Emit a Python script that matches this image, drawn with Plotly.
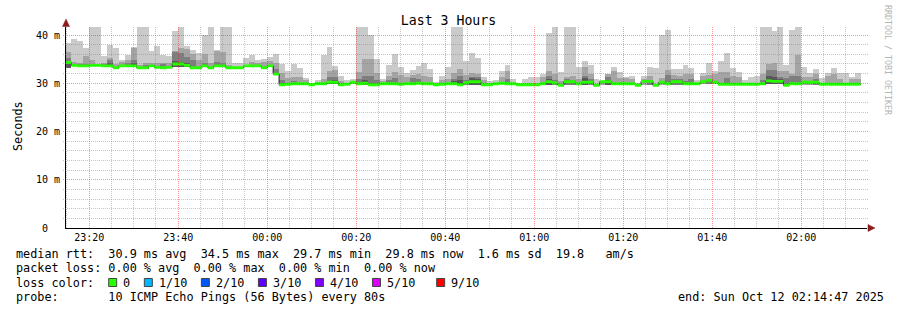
import math
import plotly.graph_objects as go
from datetime import datetime, timedelta

# ---------------- data ----------------
series_start = "2025-10-11 23:14:40"
step_seconds = 80

med = [34.3, 33.7, 33.6, 33.6, 33.7, 33.7, 33.6, 33.6, 33.2, 33.6,
       33.6, 33.6, 33.2, 33.2, 33.6, 33.3, 33.2, 33.3, 34.0, 34.0,
       33.7, 33.2, 33.2, 33.6, 33.2, 33.6, 33.6, 33.2, 33.2, 33.2,
       33.6, 33.6, 33.6, 33.2, 33.6, 31.9, 29.7, 29.8, 29.9, 29.9,
       29.9, 29.7, 29.9, 29.9, 30.2, 30.2, 29.7, 29.8, 30.2, 29.9,
       30.0, 29.7, 29.7, 29.9, 29.9, 29.9, 29.8, 29.9, 29.9, 30.0,
       29.9, 29.9, 29.7, 29.8, 29.9, 29.9, 29.7, 30.1, 30.3, 30.3,
       29.7, 29.7, 29.9, 30.0, 29.9, 29.9, 29.7, 29.7, 29.7, 29.7,
       29.9, 30.3, 30.1, 29.6, 30.3, 30.3, 29.9, 30.2, 30.2, 29.6,
       30.3, 30.3, 29.9, 29.9, 29.9, 29.9, 29.6, 30.4, 30.4, 29.6,
       30.2, 29.9, 30.3, 30.3, 29.9, 29.9, 29.9, 30.3, 30.6, 30.2,
       29.8, 29.8, 29.8, 29.8, 29.8, 29.8, 29.8, 29.9, 30.5, 30.4,
       30.4, 29.6, 29.9, 29.9, 30.2, 30.2, 30.2, 29.8, 29.8, 29.8,
       29.8, 29.8, 29.8, 29.8]

ping_min = [33.1, 33.5, 33.3, 33.4, 33.5, 33.5, 33.4, 33.4, 33.0, 33.4,
            33.4, 33.4, 33.0, 33.0, 33.4, 33.1, 33.0, 33.1, 33.3, 33.3,
            33.4, 33.0, 33.0, 33.4, 33.0, 33.4, 33.4, 33.0, 33.0, 33.0,
            33.4, 33.4, 33.4, 33.0, 33.4, 31.7, 29.5, 29.6, 29.7, 29.7,
            29.7, 29.5, 29.7, 29.7, 29.8, 29.8, 29.5, 29.6, 29.8, 29.7,
            29.7, 29.5, 29.5, 29.7, 29.7, 29.7, 29.6, 29.7, 29.7, 29.8,
            29.7, 29.7, 29.5, 29.6, 29.7, 29.7, 29.5, 29.7, 29.7, 29.7,
            29.5, 29.5, 29.7, 29.8, 29.7, 29.7, 29.5, 29.5, 29.5, 29.5,
            29.7, 29.7, 29.7, 29.4, 29.7, 29.7, 29.7, 29.7, 29.7, 29.4,
            29.7, 29.7, 29.7, 29.7, 29.7, 29.7, 29.4, 29.7, 29.7, 29.4,
            29.7, 29.7, 29.7, 29.7, 29.7, 29.7, 29.7, 29.8, 29.8, 29.8,
            29.6, 29.6, 29.6, 29.6, 29.6, 29.6, 29.6, 29.7, 29.8, 29.8,
            29.8, 29.4, 29.7, 29.7, 29.7, 29.7, 29.7, 29.6, 29.6, 29.6,
            29.6, 29.6, 29.6, 29.6]

ping_max = [38.4, 39.2, 38.8, 37.4, 41.7, 41.7, 35.6, 38.0, 37.4, 34.8,
            35.9, 37.6, 41.7, 41.7, 36.7, 37.7, 35.9, 35.6, 40.8, 41.7,
            37.7, 36.9, 36.2, 40.0, 41.7, 36.9, 41.7, 41.7, 34.3, 34.3,
            35.2, 35.9, 34.8, 35.0, 35.5, 36.1, 34.0, 32.5, 34.0, 33.1,
            31.0, 30.1, 30.6, 35.9, 37.6, 33.5, 31.5, 30.6, 30.9, 41.7,
            41.7, 40.0, 35.1, 30.9, 33.8, 36.0, 33.4, 32.1, 32.8, 33.5,
            34.1, 32.9, 30.2, 31.5, 33.3, 41.7, 41.7, 34.6, 36.2, 35.2,
            31.3, 30.4, 30.6, 32.6, 33.8, 30.9, 30.1, 30.8, 31.3, 31.2,
            31.9, 40.4, 41.7, 32.3, 41.7, 41.7, 33.4, 34.6, 33.8, 30.9,
            30.4, 32.0, 33.4, 32.3, 31.4, 31.6, 30.1, 31.6, 33.4, 33.2,
            40.0, 41.0, 33.0, 33.0, 33.8, 33.2, 30.6, 32.1, 34.1, 32.5,
            34.6, 36.3, 33.2, 32.3, 30.6, 31.3, 31.5, 41.7, 41.7, 40.9,
            41.7, 33.8, 41.0, 41.7, 33.4, 32.2, 33.0, 31.1, 32.1, 33.2,
            32.1, 32.1, 31.3, 32.1]

ping_p9 = [36.4, 34.4, 34.2, 35.6, 34.8, 34.0, 34.3, 35.3, 33.9, 34.4,
           34.9, 37.3, 33.8, 34.3, 34.1, 34.1, 34.3, 34.1, 36.7, 37.4,
           37.0, 36.0, 34.8, 36.0, 34.3, 36.6, 36.5, 33.8, None, None,
           None, 34.5, 34.2, 34.4, 34.6, 34.1, 32.1, 31.0, 31.4, 31.4,
           30.6, None, 30.2, 30.9, 32.5, 32.7, 30.5, None, None, 32.4,
           35.1, 35.1, 32.1, 30.4, 31.5, 32.4, 31.7, 31.2, 31.7, 32.0,
           31.5, 31.2, None, 30.6, 30.8, 32.2, 32.9, 31.8, 32.2, 31.9,
           30.6, None, None, 31.4, 32.5, None, None, None, None, None,
           31.3, 32.5, 32.0, 30.4, 31.3, 31.6, 30.8, 33.4, 31.9, None,
           30.4, 32.0, 32.5, 31.0, 31.1, 30.8, None, 30.9, 31.5, None,
           31.0, 32.7, 31.8, 31.6, 32.0, 31.9, None, 31.6, 31.8, 32.0,
           32.3, 32.3, 31.6, 31.3, None, None, None, 32.0, 33.9, 34.1,
           32.5, 32.5, 32.0, 35.8, 31.3, 31.3, 32.0, None, 31.5, 32.0,
           30.8, None, 30.8, 30.9]

ping_p8 = [35.2, None, 33.9, 34.0, None, None, 34.0, 34.8, None, None,
           34.3, 34.8, None, 33.7, None, None, 34.0, None, 36.5, 36.2,
           35.5, 34.8, None, 34.2, None, 34.5, 34.3, None, None, None,
           None, None, None, None, None, 33.0, 30.6, None, 30.4, None,
           None, None, None, None, 31.2, 31.4, None, None, None, 30.9,
           31.5, 31.5, 30.6, None, 30.6, 31.0, None, None, 31.0, 30.8,
           None, None, None, None, None, 30.9, 31.5, 30.6, 31.4, 31.3,
           None, None, None, None, 30.8, None, None, None, None, None,
           None, 31.6, 30.6, None, 30.8, 30.6, None, 31.6, 30.9, None,
           None, 31.3, None, None, None, None, None, None, 30.6, None,
           None, 31.8, 30.8, 30.8, 30.5, 30.8, None, None, 30.6, None,
           None, 31.0, None, None, None, None, None, 30.6, 32.7, 32.7,
           31.3, 31.0, 31.6, 31.5, None, None, 30.8, None, None, None,
           None, None, None, None]

ping_p7 = [34.4, None, None, None, None, None, None, 34.1, None, None,
           None, 34.2, None, None, None, None, None, None, 34.6, 34.5,
           34.1, None, None, None, None, None, None, None, None, None,
           None, None, None, None, None, None, None, None, None, None,
           None, None, None, None, 30.5, 30.6, None, None, None, None,
           30.6, None, None, None, None, None, None, None, None, None,
           None, None, None, None, None, 30.4, 30.6, None, 31.0, 30.8,
           None, None, None, None, None, None, None, None, None, None,
           None, 30.8, None, None, None, None, None, 31.0, None, None,
           None, 30.7, None, None, None, None, None, None, None, None,
           None, None, None, None, None, None, None, None, None, None,
           None, None, None, None, None, None, None, None, 31.6, 31.3,
           30.8, None, None, None, None, None, None, None, None, None,
           None, None, None, None]

x_tick_times = ["2025-10-11 23:20:00", "2025-10-11 23:40:00", "2025-10-12 00:00:00",
                "2025-10-12 00:20:00", "2025-10-12 00:40:00", "2025-10-12 01:00:00",
                "2025-10-12 01:20:00", "2025-10-12 01:40:00", "2025-10-12 02:00:00"]
x_tick_labels = ["23:20", "23:40", "00:00", "00:20", "00:40", "01:00", "01:20", "01:40", "02:00"]
y_tick_values = [0, 10, 20, 30, 40]
y_tick_labels = ["0\u00a0\u00a0", "10 m", "20 m", "30 m", "40 m"]

range_start = "2025-10-11 23:14:47"
range_end = "2025-10-12 02:14:47"

title_text = "Last 3 Hours"
y_title = "Seconds"
line_rtt = "median rtt:  30.9 ms avg  34.5 ms max  29.7 ms min  29.8 ms now  1.6 ms sd  19.8   am/s"
line_loss = "packet loss: 0.00 % avg  0.00 % max  0.00 % min  0.00 % now"
line_color = "loss color:"
line_probe = "probe:       10 ICMP Echo Pings (56 Bytes) every 80s"
line_end = "end: Sun Oct 12 02:14:47 2025"
watermark = "RRDTOOL / TOBI OETIKER"
loss_labels = ["0", "1/10", "2/10", "3/10", "4/10", "5/10", "9/10"]
loss_colors = ["#26ff00", "#00b8ff", "#0059ff", "#5e00ff", "#7e00ff", "#dd00ff", "#ff0000"]
loss_char_pos = [13, 18, 26, 34, 42, 50, 59]

# ---------------- geometry ----------------
W, H = 897, 310
L, R, T, B = 66, 30, 27, 82
PW = W - L - R
PH = H - T - B
YMAX = 41.66
MONO = "DejaVu Sans Mono"
CHAR_W = 7.13
LEG_SIZE = 11.8


def px_x(px):
    return (px - L) / PW


def px_y(py):
    return (H - B - py) / PH


def nb(s):
    return s.replace(" ", "\u00a0")


t0 = datetime.fromisoformat(series_start)
rs = datetime.fromisoformat(range_start)
re_ = datetime.fromisoformat(range_end)
span = (re_ - rs).total_seconds()
n = len(med)
fmt = "%Y-%m-%d %H:%M:%S"
centers = [(t0 + timedelta(seconds=step_seconds * (k + 0.5))).strftime(fmt) for k in range(n)]
edges = [(t0 + timedelta(seconds=step_seconds * k)).strftime(fmt) for k in range(n + 1)]

fig = go.Figure()


def smoke(tops, color):
    xs, bases, hs = [], [], []
    for k in range(n):
        if tops[k] is None:
            continue
        xs.append(centers[k])
        bases.append(ping_min[k])
        hs.append(tops[k] - ping_min[k])
    fig.add_trace(go.Bar(x=xs, y=hs, base=bases, width=step_seconds * 1000,
                         marker=dict(color=color, line=dict(width=0)),
                         hoverinfo="skip", showlegend=False))


smoke(ping_max, "#cacaca")
smoke(ping_p9, "#a4a4a4")
smoke(ping_p8, "#7e7e7e")
smoke(ping_p7, "#585858")

# thin dark median outline (shows at the step edges)
fig.add_trace(go.Scatter(x=edges, y=med + [med[-1]], mode="lines",
                         line=dict(shape="hv", color="#202020", width=1),
                         hoverinfo="skip", showlegend=False))

# loss-coloured median band, drawn on top of the outline
band = 0.6
gx, gy = [], []
for k in range(n):
    a, b = edges[k], edges[k + 1]
    lo_, hi_ = med[k] - band / 2, med[k] + band / 2
    gx += [a, b, b, a, a, None]
    gy += [lo_, lo_, hi_, hi_, lo_, None]
fig.add_trace(go.Scatter(x=gx, y=gy, mode="lines", fill="toself",
                         fillcolor=loss_colors[0], line=dict(width=0, color=loss_colors[0]),
                         hoverinfo="skip", showlegend=False))

# ---------------- grid (drawn above data like rrdtool, snapped to pixels) ----------------
shapes = []
minor_col = "rgba(128,128,128,0.45)"
major_col = "rgba(255,0,0,0.42)"
DOT = "1px,1px"


def snap(p):
    return math.floor(p) + 0.5


gs = datetime.fromisoformat("2025-10-11 23:15:00")
t = gs
while t <= re_:
    major = (t.minute % 20 == 0)
    px = L + (t - rs).total_seconds() / span * PW
    xp = px_x(snap(px))
    shapes.append(dict(type="line", xref="paper", yref="paper",
                       x0=xp, x1=xp, y0=px_y(228), y1=px_y(27),
                       line=dict(color=major_col if major else minor_col, width=1, dash=DOT),
                       layer="above"))
    t += timedelta(minutes=5)
for v in range(2, 42, 2):
    major = (v % 10 == 0)
    py = H - B - v / YMAX * PH
    yp = px_y(snap(py))
    shapes.append(dict(type="line", xref="paper", yref="paper",
                       x0=px_x(63), x1=px_x(868), y0=yp, y1=yp,
                       line=dict(color=major_col if major else minor_col, width=1, dash=DOT),
                       layer="above"))

# axis arrows
arrow_col = "#8b1c1c"
shapes.append(dict(type="path", xref="paper", yref="paper",
                   path="M {a},{b} L {c},{d} L {e},{d} Z".format(
                       a=px_x(66), b=px_y(19), c=px_x(62.5), d=px_y(26.5), e=px_x(69.5)),
                   fillcolor=arrow_col, line=dict(color=arrow_col, width=0.5), layer="above"))
shapes.append(dict(type="path", xref="paper", yref="paper",
                   path="M {a},{b} L {c},{d} L {c},{e} Z".format(
                       a=px_x(875), b=px_y(228), c=px_x(868), d=px_y(224.5), e=px_y(231.5)),
                   fillcolor=arrow_col, line=dict(color=arrow_col, width=0.5), layer="above"))

# loss colour squares
for pos, col in zip(loss_char_pos, loss_colors):
    x0 = 16 + pos * CHAR_W
    shapes.append(dict(type="rect", xref="paper", yref="paper",
                       x0=px_x(x0), x1=px_x(x0 + 8), y0=px_y(286.5), y1=px_y(278.5),
                       fillcolor=col, line=dict(color="#444444", width=1), layer="above"))

# ---------------- text ----------------
ann = []


def text(px, py, s, size=LEG_SIZE, anchor="left", color="#000000", angle=0):
    ann.append(dict(xref="paper", yref="paper", x=px_x(px), y=px_y(py), text=nb(s),
                    showarrow=False, xanchor=anchor, yanchor="middle", textangle=angle,
                    borderpad=0, borderwidth=0,
                    font=dict(family=MONO, size=size, color=color)))


text(16, 254, line_rtt)
text(16, 268, line_loss)
text(16, 282.5, line_color)
for pos, lab in zip(loss_char_pos, loss_labels):
    text(16 + (pos + 2) * CHAR_W, 282.5, lab)
text(16, 296.5, line_probe)
text(677.5, 296.5, line_end)
text(11, 126, y_title, angle=-90)
text(888, 60, watermark, size=8.3, anchor="center", color="#b4b4b4", angle=90)

fig.update_layout(
    width=W, height=H,
    margin=dict(l=L, r=R, t=T, b=B, pad=0),
    paper_bgcolor="white", plot_bgcolor="white",
    barmode="overlay", bargap=0,
    showlegend=False, hovermode=False,
    title=dict(text=title_text, x=0.5, xanchor="center", y=1 - 20 / H, yanchor="middle",
               font=dict(family=MONO, size=13.2, color="#000000")),
    xaxis=dict(type="date", range=[range_start, range_end],
               tickmode="array", tickvals=x_tick_times, ticktext=x_tick_labels,
               showgrid=False, zeroline=False, showline=True, linecolor="#000000", linewidth=1,
               ticks="", tickfont=dict(family=MONO, size=10, color="#000000")),
    yaxis=dict(range=[0, YMAX], tickmode="array", tickvals=y_tick_values, ticktext=y_tick_labels,
               showgrid=False, zeroline=False, showline=True, linecolor="#000000", linewidth=1,
               ticks="outside", ticklen=3, tickcolor="rgba(0,0,0,0)",
               tickfont=dict(family=MONO, size=10, color="#000000")),
    shapes=shapes,
    annotations=ann,
)

fig.write_html("out.html")
